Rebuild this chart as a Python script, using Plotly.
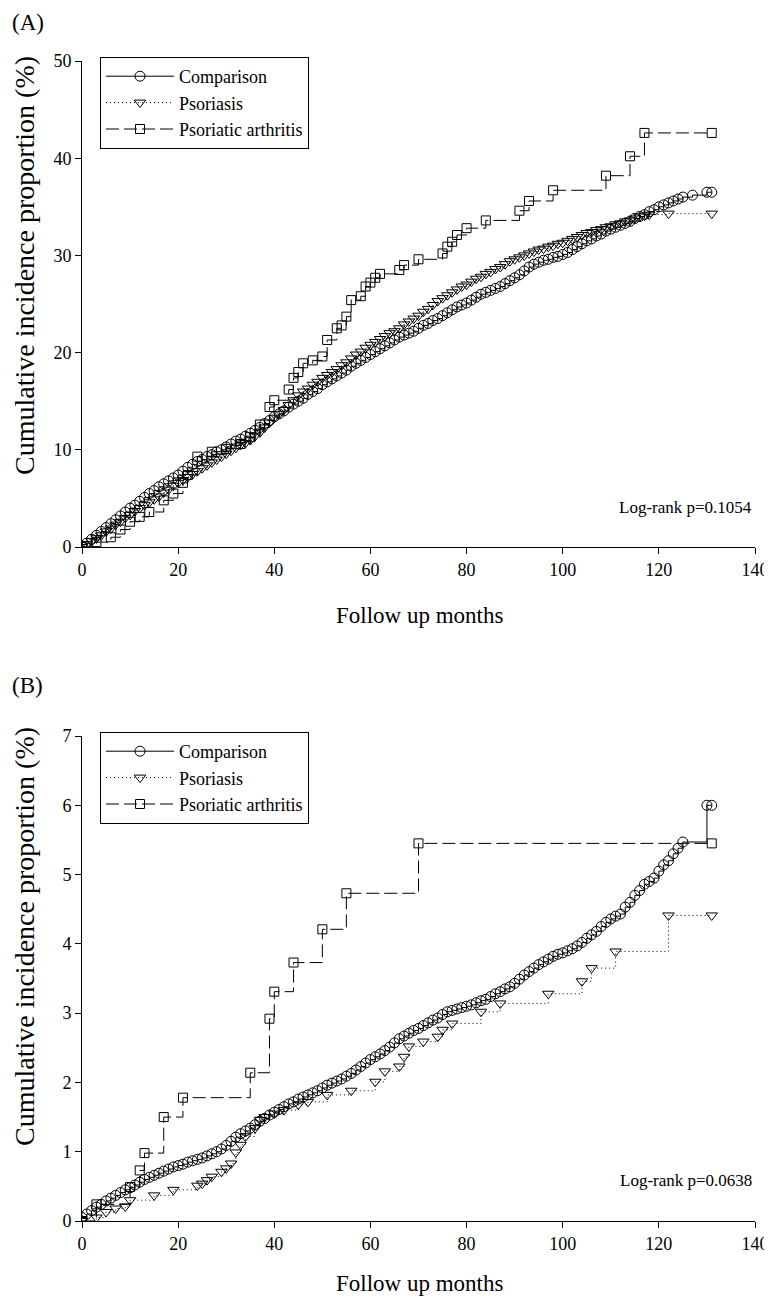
import plotly.graph_objects as go

# ---- panel A: all-cause outcome, cumulative incidence (%)
a_comp_month = list(range(0, 126)) + [127, 130, 131]
a_comp_pct = [0, 0.4, 0.8, 1.2, 1.6, 2.0, 2.4, 2.8, 3.2, 3.6, 4.0, 4.3, 4.7, 5.1, 5.5, 5.8, 6.2, 6.5, 6.8, 7.1,
              7.4, 7.8, 8.2, 8.5, 8.8, 9.0, 9.3, 9.5, 9.8, 10.0, 10.3, 10.6, 10.9, 11.1, 11.4, 11.7, 12.0, 12.3,
              12.7, 13.0, 13.4, 13.7, 14.0, 14.4, 14.7, 15.0, 15.3, 15.7, 16.0, 16.3, 16.7, 17.0, 17.3, 17.6,
              17.9, 18.2, 18.6, 18.9, 19.2, 19.5, 19.8, 20.1, 20.4, 20.7, 21.0, 21.3, 21.6, 21.8, 22.0, 22.2,
              22.5, 22.8, 23.0, 23.3, 23.5, 23.8, 24.1, 24.4, 24.7, 24.9, 25.1, 25.4, 25.7, 26.0, 26.2, 26.4,
              26.6, 26.8, 27.1, 27.4, 27.7, 28.0, 28.4, 28.8, 29.1, 29.3, 29.5, 29.6, 29.8, 29.9, 30.1, 30.3,
              30.6, 30.9, 31.2, 31.5, 31.7, 32.0, 32.2, 32.5, 32.7, 32.9, 33.1, 33.3, 33.5, 33.8, 34.0, 34.2,
              34.5, 34.7, 35.0, 35.2, 35.4, 35.6, 35.8, 36.0, 36.2, 36.5, 36.5]

a_pso_month = list(range(0, 119)) + [122, 131]
a_pso_pct = [0, 0.3, 0.6, 0.9, 1.2, 1.6, 1.9, 2.3, 2.6, 3.0, 3.3, 3.7, 4.0, 4.3, 4.6, 4.9, 5.2, 5.6, 5.9, 6.3,
             6.6, 6.9, 7.2, 7.5, 7.8, 8.1, 8.4, 8.7, 9.0, 9.3, 9.6, 9.9, 10.2, 10.5, 10.7, 11.0, 11.4, 11.8,
             12.3, 12.8, 13.3, 13.7, 14.1, 14.6, 15.1, 15.6, 16.0, 16.3, 16.7, 17.0, 17.4, 17.7, 18.0, 18.3,
             18.7, 19.0, 19.4, 19.8, 20.1, 20.5, 20.8, 21.1, 21.4, 21.7, 22.0, 22.2, 22.5, 22.9, 23.2, 23.5,
             23.8, 24.2, 24.5, 24.9, 25.3, 25.6, 25.9, 26.2, 26.5, 26.8, 27.0, 27.3, 27.6, 27.8, 28.1, 28.3,
             28.6, 28.8, 29.1, 29.4, 29.6, 29.8, 30.0, 30.2, 30.4, 30.6, 30.7, 30.9, 31.0, 31.2, 31.3, 31.5,
             31.7, 31.9, 32.1, 32.3, 32.4, 32.6, 32.7, 32.9, 33.0, 33.2, 33.3, 33.5, 33.6, 33.8, 34.0, 34.1,
             34.2, 34.3, 34.3]

a_psa_month = [0, 3, 6, 8, 10, 12, 14, 17, 19, 21, 22, 24, 27, 30, 33, 35, 37, 39, 40, 43, 44, 45, 46, 48, 50,
               51, 53, 54, 55, 56, 58, 59, 60, 61, 62, 66, 67, 70, 75, 76, 77, 78, 80, 84, 91, 93, 98, 109,
               114, 117, 131]
a_psa_pct = [0, 0.5, 1.0, 1.8, 2.6, 3.1, 3.6, 4.8, 5.5, 6.6, 7.4, 9.3, 9.8, 10.1, 10.6, 11.3, 12.6, 14.4, 15.1,
             16.2, 17.4, 18.0, 18.9, 19.2, 19.6, 21.3, 22.5, 22.8, 23.7, 25.4, 25.8, 26.8, 27.2, 27.7, 28.1,
             28.5, 29.0, 29.6, 30.2, 30.9, 31.4, 32.1, 32.8, 33.6, 34.6, 35.6, 36.7, 38.2, 40.2, 42.6, 42.6]

# ---- panel B
b_comp_month = list(range(0, 126)) + [130, 131]
b_comp_pct = [0.05, 0.1, 0.15, 0.2, 0.24, 0.29, 0.33, 0.37, 0.41, 0.45, 0.48, 0.52, 0.56, 0.6, 0.63, 0.66,
              0.69, 0.72, 0.75, 0.78, 0.8, 0.82, 0.85, 0.87, 0.89, 0.91, 0.94, 0.97, 1.0, 1.04, 1.09, 1.15,
              1.21, 1.26, 1.3, 1.34, 1.39, 1.44, 1.48, 1.53, 1.57, 1.61, 1.65, 1.69, 1.72, 1.76, 1.79, 1.82,
              1.85, 1.88, 1.92, 1.96, 1.99, 2.02, 2.05, 2.09, 2.13, 2.18, 2.23, 2.28, 2.33, 2.37, 2.41, 2.46,
              2.51, 2.57, 2.63, 2.67, 2.71, 2.75, 2.78, 2.82, 2.86, 2.9, 2.93, 2.98, 3.02, 3.04, 3.06, 3.08,
              3.1, 3.12, 3.15, 3.18, 3.2, 3.24, 3.28, 3.31, 3.35, 3.38, 3.43, 3.49, 3.55, 3.6, 3.65, 3.7,
              3.74, 3.78, 3.82, 3.85, 3.87, 3.9, 3.93, 3.97, 4.02, 4.08, 4.13, 4.18, 4.25, 4.31, 4.36, 4.4,
              4.43, 4.53, 4.6, 4.7, 4.77, 4.86, 4.9, 4.95, 5.05, 5.14, 5.2, 5.3, 5.38, 5.47, 6.0, 6.0]

b_pso_month = [0, 3, 5, 7, 9, 10, 15, 19, 24, 25, 26, 27, 29, 30, 31, 32, 33, 34, 36, 37, 38, 40, 42, 45, 47,
               51, 56, 61, 63, 66, 67, 68, 71, 74, 75, 77, 83, 87, 97, 104, 106, 111, 122, 131]
b_pso_pct = [0, 0.05, 0.13, 0.18, 0.21, 0.3, 0.37, 0.45, 0.51, 0.54, 0.59, 0.64, 0.71, 0.76, 0.83, 0.99, 1.1,
             1.22, 1.34, 1.46, 1.5, 1.55, 1.6, 1.68, 1.72, 1.82, 1.88, 2.01, 2.16, 2.23, 2.37, 2.52, 2.59,
             2.66, 2.76, 2.85, 3.02, 3.14, 3.28, 3.46, 3.65, 3.89, 4.41, 4.41]

b_psa_month = [0, 3, 10, 12, 13, 17, 21, 35, 39, 40, 44, 50, 55, 70, 131]
b_psa_pct = [0, 0.24, 0.49, 0.73, 0.98, 1.5, 1.78, 2.14, 2.92, 3.31, 3.73, 4.21, 4.73, 5.45, 5.45]

group_names = ['Comparison', 'Psoriasis', 'Psoriatic arthritis']
x_ticks = [0, 20, 40, 60, 80, 100, 120, 140]
pvalue_a = 'Log-rank p=0.1054'
pvalue_b = 'Log-rank p=0.0638'

FONT = 'Liberation Serif'
# the page body has an 8px margin, so the figure is drawn 8px right/down
PAGE_OFF = 8
W, H = 772 - PAGE_OFF, 1304 - 2 * PAGE_OFF

styles = [
    dict(line=dict(color='black', width=1, dash='solid', shape='hv'),
         marker=dict(symbol='circle-open', size=10, color='black', line=dict(width=1))),
    dict(line=dict(color='black', width=1, dash='1px,3px', shape='hv'),
         marker=dict(symbol='triangle-down-open', size=10, color='black', line=dict(width=1))),
    dict(line=dict(color='black', width=1, dash='13px,5px', shape='hv'),
         marker=dict(symbol='square-open', size=9, color='black', line=dict(width=1))),
]

fig = go.Figure()

panels = [
    ('x', 'y', 'legend', [(a_comp_month, a_comp_pct), (a_pso_month, a_pso_pct), (a_psa_month, a_psa_pct)]),
    ('x2', 'y2', 'legend2', [(b_comp_month, b_comp_pct), (b_pso_month, b_pso_pct), (b_psa_month, b_psa_pct)]),
]
for xa, ya, leg, series in panels:
    for name, (mx, vy), st in zip(group_names, series, styles):
        fig.add_trace(go.Scatter(x=mx, y=vy, mode='lines+markers', name=name,
                                 xaxis=xa, yaxis=ya, legend=leg,
                                 line=st['line'], marker=st['marker']))


def px_x(p):
    return (p - PAGE_OFF) / W


def px_y(p):
    return 1 - (p - PAGE_OFF) / H


axis_common = dict(showline=True, linecolor='black', linewidth=1, ticks='outside', ticklen=6,
                   tickcolor='black', tickwidth=1, showgrid=False, zeroline=False, automargin=False,
                   tickfont=dict(family=FONT, size=18, color='black'))

legend_common = dict(xanchor='left', yanchor='top', bgcolor='white', bordercolor='black',
                     borderwidth=1, font=dict(family=FONT, size=18, color='black'),
                     itemwidth=68, tracegroupgap=0)

fig.update_layout(
    width=W, height=H,
    margin=dict(l=0, r=0, t=0, b=0, autoexpand=False),
    paper_bgcolor='white', plot_bgcolor='white',
    font=dict(family=FONT, color='black'),
    xaxis=dict(domain=[px_x(82), px_x(755)], range=[0, 140], tickvals=x_ticks, anchor='y', **axis_common),
    yaxis=dict(domain=[px_y(547), px_y(61)], range=[0, 50], dtick=10, anchor='x', **axis_common),
    xaxis2=dict(domain=[px_x(82), px_x(755)], range=[0, 140], tickvals=x_ticks, anchor='y2', **axis_common),
    yaxis2=dict(domain=[px_y(1221), px_y(736)], range=[0, 7], dtick=1, anchor='x2', **axis_common),
    legend=dict(x=px_x(100), y=px_y(57), **legend_common),
    legend2=dict(x=px_x(100), y=px_y(732), **legend_common),
    showlegend=True,
)

title_font = dict(family=FONT, size=23, color='black')
ytitle_font = dict(family=FONT, size=28, color='black')
notes = [
    dict(text='(A)', x=px_x(10), y=px_y(22), xanchor='left', yanchor='middle', font=title_font),
    dict(text='(B)', x=px_x(10), y=px_y(685), xanchor='left', yanchor='middle', font=title_font),
    dict(text='Follow up months', x=px_x(419), y=px_y(615), xanchor='center', yanchor='middle', font=title_font),
    dict(text='Follow up months', x=px_x(419), y=px_y(1283), xanchor='center', yanchor='middle', font=title_font),
    dict(text='Cumulative incidence proportion (%)', x=px_x(24), y=px_y(266), textangle=-90,
         xanchor='center', yanchor='middle', font=ytitle_font),
    dict(text='Cumulative incidence proportion (%)', x=px_x(24), y=px_y(937), textangle=-90,
         xanchor='center', yanchor='middle', font=ytitle_font),
    dict(text=pvalue_a, x=px_x(754), y=px_y(507), xanchor='right', yanchor='middle',
         font=dict(family=FONT, size=17, color='black')),
    dict(text=pvalue_b, x=px_x(754), y=px_y(1180), xanchor='right', yanchor='middle',
         font=dict(family=FONT, size=17, color='black')),
]
for n in notes:
    fig.add_annotation(xref='paper', yref='paper', showarrow=False, **n)

fig.write_html("out.html")
